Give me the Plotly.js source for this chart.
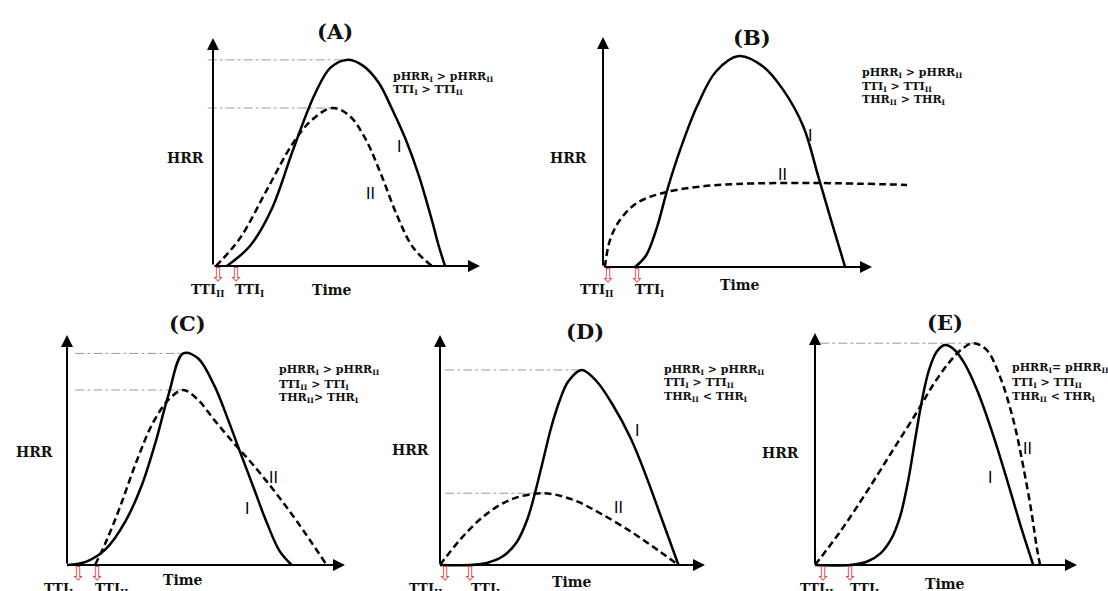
<!DOCTYPE html>
<html><head><meta charset="utf-8">
<script src="https://cdn.plot.ly/plotly-3.0.1.min.js"></script>
<style>html,body{margin:0;padding:0;background:#fff;}#chart{width:1108px;height:591px;}</style>
</head><body><div id="chart"></div>
<script>
// ---------------- data (Time, HRR in arbitrary units 0..100) ----------------
const panelTitles = ['(A)', '(B)', '(C)', '(D)', '(E)'];

const timeA_I  = [5.2, 14, 22, 30, 38, 44, 50.2, 56, 62, 67, 72, 77, 82, 84.5, 86.9];
const hrrA_I   = [0, 9, 25, 51, 75, 87, 90.4, 88, 80.5, 69, 56, 40, 20, 9, 0];
const timeA_II = [1.1, 10, 20, 30, 37, 44.6, 51, 57, 63, 69, 75, 82];
const hrrA_II  = [0, 12, 33, 54, 64, 69.3, 66, 56, 40, 22, 8, 0];

const timeB_I  = [11.9, 16, 20, 24, 29, 35, 42, 50.5, 59.6, 67, 74.5, 80, 85, 90];
const hrrB_I   = [0, 5, 17, 34, 52, 70, 85, 91.7, 87.1, 77, 61, 39.5, 19.5, 0];
const timeB_II = [0.7, 2.6, 6.3, 12.6, 22.3, 34.9, 49.8, 79.6, 113.0];
const hrrB_II  = [0, 11.7, 20.4, 27.8, 32.2, 34.8, 36.1, 36.5, 35.7];

const timeC_I  = [0, 7, 14, 21, 27, 32, 36.5, 41.8, 47, 53, 58, 62, 67, 72, 76.5, 80.8];
const hrrC_I   = [0, 1.5, 7, 19, 35, 54, 74, 92, 90, 78, 63, 50, 34, 18, 6, 0];
const timeC_II = [10.1, 14, 19, 25, 31, 37, 41.8, 47, 53, 60, 67, 75, 83, 93.4];
const hrrC_II  = [0, 10, 25, 45, 62, 72.5, 76.1, 72, 63, 53, 43.5, 31.5, 18.5, 0];

const timeD_I  = [0, 11.3, 18, 24, 29, 33, 36, 39, 42, 45, 48.5, 53.5, 59, 65, 72, 78, 84, 90];
const hrrD_I   = [0, 0, 1, 4, 10, 20, 32, 46, 60, 71, 80, 84.8, 80, 70, 55, 38, 19, 0];
const timeD_II = [0, 7.5, 16.3, 26.4, 39.0, 50.3, 60.4, 73.0, 83.0, 90.0];
const hrrD_II  = [0, 10.9, 21.0, 28.3, 31.2, 28.3, 22.5, 13.8, 5.8, 0];

const timeE_I  = [0, 13.4, 20, 25, 29, 32.5, 35.5, 38.5, 41, 43.5, 46.5, 49.6, 53, 57, 62, 68, 74, 79, 83.3];
const hrrE_I   = [0, 0, 1.5, 5, 11, 21, 36, 56, 72, 84, 92, 94.8, 93, 87, 75, 56, 34, 15, 0];
const timeE_II = [0, 10, 20, 30, 39, 45, 51, 56, 60.4, 65.5, 70.6, 75.7, 79.5, 82.7, 84.6, 85.9];
const hrrE_II  = [0, 15, 32, 50, 66.1, 77.5, 87, 93, 95.6, 92.7, 81.2, 62.5, 42.4, 22.3, 7.9, 0];

// time-to-ignition marks [left arrow, right arrow]
const ttiA = [2.0, 8.6], ttiB = [1.9, 12.6], ttiC = [4.0, 10.8], ttiD = [1.9, 11.3], ttiE = [3.1, 13.4];
const ttiLabelsA = ['TTI<sub>II</sub>', 'TTI<sub>I</sub>'];
const ttiLabelsB = ['TTI<sub>II</sub>', 'TTI<sub>I</sub>'];
const ttiLabelsC = ['TTI<sub>I</sub>', 'TTI<sub>II</sub>'];
const ttiLabelsD = ['TTI<sub>II</sub>', 'TTI<sub>I</sub>'];
const ttiLabelsE = ['TTI<sub>II</sub>', 'TTI<sub>I</sub>'];

const ineqA = ['pHRR<sub>I</sub> &gt; pHRR<sub>II</sub>', 'TTI<sub>I</sub> &gt; TTI<sub>II</sub>'];
const ineqB = ['pHRR<sub>I</sub> &gt; pHRR<sub>II</sub>', 'TTI<sub>I</sub> &gt; TTI<sub>II</sub>', 'THR<sub>II</sub> &gt; THR<sub>I</sub>'];
const ineqC = ['pHRR<sub>I</sub> &gt; pHRR<sub>II</sub>', 'TTI<sub>II</sub> &gt; TTI<sub>I</sub>', 'THR<sub>II</sub>&gt; THR<sub>I</sub>'];
const ineqD = ['pHRR<sub>I</sub> &gt; pHRR<sub>II</sub>', 'TTI<sub>I</sub> &gt; TTI<sub>II</sub>', 'THR<sub>II</sub> &lt; THR<sub>I</sub>'];
const ineqE = ['pHRR<sub>I</sub>= pHRR<sub>II</sub>', 'TTI<sub>I</sub> &gt; TTI<sub>II</sub>', 'THR<sub>II</sub> &lt; THR<sub>I</sub>'];

const curveLabels = ['I', 'II'];
const axisLabelY = 'HRR', axisLabelX = 'Time';

// ---------------- layout geometry (pixels) ----------------
const W = 1108, H = 591;
const SERIF = 'DejaVu Serif, Liberation Serif, serif';
const SANS = 'Liberation Sans, Arial, sans-serif';

const panels = [
  { t: timeA_I, h: hrrA_I, t2: timeA_II, h2: hrrA_II, tti: ttiA, ttiL: ttiLabelsA, ineq: ineqA,
    g: {ox: 213, oy: 266, sx: 2.67, sy: 2.28, xr: [-15, 120], yr: [-15, 110]}, refs: 'both', refX0: -2,
    pos: {title: [335, 32], hrr: [185, 158], time: [332, 290], ttiL: [[207, 290], [250, 290]],
          cI: [399, 147], cII: [370, 193], ineq: [391, [77, 90]]} },
  { t: timeB_I, h: hrrB_I, t2: timeB_II, h2: hrrB_II, tti: ttiB, ttiL: ttiLabelsB, ineq: ineqB,
    g: {ox: 603, oy: 267, sx: 2.69, sy: 2.30, xr: [-15, 120], yr: [-15, 110]}, refs: 'none', refX0: 0,
    pos: {title: [752, 37], hrr: [568, 158], time: [740, 285], ttiL: [[596, 290], [649, 290]],
          cI: [810, 135], cII: [782, 175], ineq: [860, [73, 87, 100]]} },
  { t: timeC_I, h: hrrC_I, t2: timeC_II, h2: hrrC_II, tti: ttiC, ttiL: ttiLabelsC, ineq: ineqC,
    g: {ox: 67, oy: 565, sx: 2.78, sy: 2.30, xr: [-15, 110], yr: [-10, 110]}, refs: 'both', refX0: 3,
    pos: {title: [187, 323], hrr: [34, 452], time: [183, 580], ttiL: [[58, 589], [111, 589]],
          cI: [247, 508], cII: [273, 477], ineq: [277, [370, 385, 398]]} },
  { t: timeD_I, h: hrrD_I, t2: timeD_II, h2: hrrD_II, tti: ttiD, ttiL: ttiLabelsD, ineq: ineqD,
    g: {ox: 440, oy: 565, sx: 2.65, sy: 2.30, xr: [-15, 110], yr: [-10, 110]}, refs: 'both', refX0: 2,
    pos: {title: [585, 332], hrr: [410, 450], time: [572, 582], ttiL: [[425, 589], [485, 589]],
          cI: [637, 430], cII: [618, 507], ineq: [662, [370, 383, 397]]} },
  { t: timeE_I, h: hrrE_I, t2: timeE_II, h2: hrrE_II, tti: ttiE, ttiL: ttiLabelsE, ineq: ineqE,
    g: {ox: 815, oy: 565, sx: 2.62, sy: 2.32, xr: [-15, 110], yr: [-10, 110]}, refs: 'max', refX0: 2,
    pos: {title: [945, 322], hrr: [780, 453], time: [945, 584], ttiL: [[816, 589], [864, 589]],
          cI: [990, 477], cII: [1027, 448], ineq: [1010, [368, 383, 397]]} }
];

function peak(xs, ys) {
  let k = 0;
  ys.forEach((v, i) => { if (v > ys[k]) k = i; });
  return [xs[k], ys[k]];
}
function paperText(px, py, text, font, xanchor) {
  return { xref: 'paper', yref: 'paper', x: px / W, y: 1 - py / H, text: text, showarrow: false,
           xanchor: xanchor || 'center', yanchor: 'middle', font: font };
}

const traces = [];
const annotations = [];
const layout = {
  width: W, height: H, margin: {l: 0, r: 0, t: 0, b: 0},
  paper_bgcolor: '#ffffff', plot_bgcolor: 'rgba(0,0,0,0)', showlegend: false
};

panels.forEach((p, i) => {
  const k = i + 1;
  const xa = 'xaxis' + (k === 1 ? '' : k), ya = 'yaxis' + (k === 1 ? '' : k);
  const xr = 'x' + (k === 1 ? '' : k), yr = 'y' + (k === 1 ? '' : k);
  const g = p.g;
  layout[xa] = { domain: [(g.ox + g.xr[0] * g.sx) / W, (g.ox + g.xr[1] * g.sx) / W], range: g.xr,
                 visible: false, fixedrange: true, anchor: yr };
  layout[ya] = { domain: [1 - (g.oy - g.yr[0] * g.sy) / H, 1 - (g.oy - g.yr[1] * g.sy) / H], range: g.yr,
                 visible: false, fixedrange: true, anchor: xr };

  // reference (dash-dot) lines to the peaks
  const pkI = peak(p.t, p.h), pkII = peak(p.t2, p.h2);
  const refList = p.refs === 'both' ? [pkI, pkII] : (p.refs === 'max' ? [pkI[1] >= pkII[1] ? pkI : pkII] : []);
  refList.forEach(pk => {
    traces.push({ x: [p.refX0, pk[0]], y: [pk[1], pk[1]], xaxis: xr, yaxis: yr, mode: 'lines',
                  line: {color: '#9a9a9a', width: 1, dash: 'dashdot'}, hoverinfo: 'skip' });
  });
  // curve II (dashed) and curve I (solid)
  traces.push({ x: p.t2, y: p.h2, xaxis: xr, yaxis: yr, mode: 'lines',
                line: {color: '#000', width: 2.5, dash: '7px,4px', shape: 'spline', smoothing: 1}, hoverinfo: 'skip' });
  traces.push({ x: p.t, y: p.h, xaxis: xr, yaxis: yr, mode: 'lines',
                line: {color: '#000', width: 2.5, shape: 'spline', smoothing: 1}, hoverinfo: 'skip' });

  // axes with arrow heads
  annotations.push({ xref: xr, yref: yr, axref: xr, ayref: yr, x: 100, y: 0, ax: 0, ay: 0, text: '',
                     showarrow: true, arrowhead: 2, arrowsize: 1.2, arrowwidth: 2, arrowcolor: '#000' });
  annotations.push({ xref: xr, yref: yr, axref: xr, ayref: yr, x: 0, y: 100, ax: 0, ay: 0, text: '',
                     showarrow: true, arrowhead: 2, arrowsize: 1.2, arrowwidth: 2, arrowcolor: '#000' });

  // TTI hollow red arrows
  p.tti.forEach(tv => {
    annotations.push({ xref: xr, yref: yr, x: tv, y: 0, text: '\u21E9', showarrow: false,
                       xanchor: 'center', yanchor: 'middle', yshift: -8,
                       font: {family: 'DejaVu Sans', size: 19, color: '#e04a4a'} });
  });

  const P = p.pos;
  annotations.push(paperText(P.title[0], P.title[1], '<b>' + panelTitles[i] + '</b>', {family: SERIF, size: 21, color: '#111'}));
  annotations.push(paperText(P.hrr[0], P.hrr[1], '<b>' + axisLabelY + '</b>', {family: SERIF, size: 14, color: '#111'}));
  annotations.push(paperText(P.time[0], P.time[1], '<b>' + axisLabelX + '</b>', {family: SERIF, size: 14, color: '#111'}));
  p.ttiL.forEach((lab, j) => {
    annotations.push(paperText(P.ttiL[j][0], P.ttiL[j][1], '<b>' + lab + '</b>', {family: SERIF, size: 13, color: '#111'}));
  });
  annotations.push(paperText(P.cI[0], P.cI[1], curveLabels[0], {family: SANS, size: 16, color: '#000'}));
  annotations.push(paperText(P.cII[0], P.cII[1], curveLabels[1], {family: SANS, size: 16, color: '#000'}));
  p.ineq.forEach((line, j) => {
    annotations.push(paperText(P.ineq[0], P.ineq[1][j], '<b>' + line + '</b>', {family: SERIF, size: 11, color: '#111'}, 'left'));
  });
});

layout.annotations = annotations;
Plotly.newPlot('chart', traces, layout, {staticPlot: true, displayModeBar: false});
</script>
</body></html>
